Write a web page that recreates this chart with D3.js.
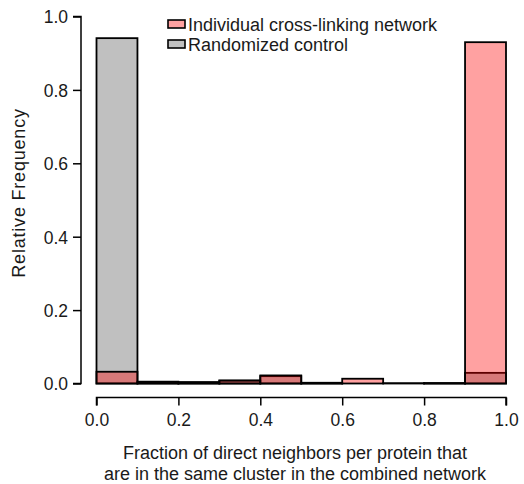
<!DOCTYPE html>
<html>
<head>
<meta charset="utf-8">
<script src="https://cdn.jsdelivr.net/npm/d3@7"></script>
<style>
  body { margin: 0; background: #fff; }
  svg { display: block; font-family: "Liberation Sans", Arial, sans-serif; }
</style>
</head>
<body>
<svg id="chart" width="524" height="484"></svg>
<script>
// Bin edges (fraction of direct neighbors in same cluster)
const binStarts = [0.0, 0.1, 0.2, 0.3, 0.4, 0.5, 0.6, 0.7, 0.8, 0.9];
const binWidth = 0.1;
// Relative frequencies
const randomizedValues = [0.941, 0.003, 0.002, 0.008, 0.020, 0.001, 0.0, 0.0, 0.001, 0.029];
const individualValues = [0.032, 0.005, 0.004, 0.008, 0.022, 0.002, 0.013, 0.001, 0.001, 0.930];
const xTicks = [0.0, 0.2, 0.4, 0.6, 0.8, 1.0];
const yTicks = [0.0, 0.2, 0.4, 0.6, 0.8, 1.0];
const seriesNames = ["Individual cross-linking network", "Randomized control"];
const xTitleLines = ["Fraction of direct neighbors per protein that", "are in the same cluster in the combined network"];
const yTitle = "Relative Frequency";

const svg = d3.select("#chart");
const x = d3.scaleLinear().domain([0, 1]).range([96.5, 506]);
const y = d3.scaleLinear().domain([0, 1]).range([383.5, 16.5]);

const grayFill = "#c0c0c0";
const redFill = "rgba(255,0,0,0.37)";
const textColor = "#1a1a1a";

function drawBars(values, fill, cls) {
  svg.append("g").attr("class", cls)
    .selectAll("rect").data(binStarts.map((s, i) => ({s, v: values[i]})))
    .join("rect")
    .attr("x", d => x(d.s))
    .attr("width", d => x(d.s + binWidth) - x(d.s))
    .attr("y", d => y(d.v))
    .attr("height", d => y(0) - y(d.v))
    .attr("fill", fill)
    .attr("stroke", "#000")
    .attr("stroke-width", 1.8);
}
drawBars(randomizedValues, grayFill, "gray");
drawBars(individualValues, redFill, "red");

// Y axis
const yAxis = d3.axisLeft(y).tickValues(yTicks).tickFormat(d3.format(".1f")).tickSize(8).tickPadding(4);
const gy = svg.append("g").attr("transform", "translate(81,0)").call(yAxis);
gy.select(".domain").attr("d", `M-8,${y(0)}H0V${y(1)}H-8`).attr("stroke-width", 1.5);
gy.selectAll(".tick line").attr("stroke-width", 1.5);
gy.selectAll(".tick text").attr("font-size", 17.5).attr("fill", textColor)
  .attr("font-family", "Liberation Sans, Arial, sans-serif").attr("x", -13).attr("dy", "0.36em");

// X axis
const xAxis = d3.axisBottom(x).tickValues(xTicks).tickFormat(d3.format(".1f")).tickSize(8).tickPadding(5);
const gx = svg.append("g").attr("transform", "translate(0,397.5)").call(xAxis);
gx.select(".domain").attr("d", `M${x(0)},8V0H${x(1)}V8`).attr("stroke-width", 1.5);
gx.selectAll(".tick line").attr("stroke-width", 1.5);
gx.selectAll(".tick text").attr("font-size", 17.5).attr("fill", textColor)
  .attr("font-family", "Liberation Sans, Arial, sans-serif").attr("y", 28.5).attr("dy", null);

// Axis titles
svg.append("g").selectAll("text").data(xTitleLines).join("text")
  .attr("x", 295).attr("y", (d, i) => 459 + i * 21)
  .attr("text-anchor", "middle").attr("font-size", 18).attr("fill", textColor)
  .text(d => d);
svg.append("text")
  .attr("transform", "translate(25,193) rotate(-90)")
  .attr("text-anchor", "middle").attr("font-size", 18).attr("letter-spacing", 0.8).attr("fill", textColor)
  .text(yTitle);

// Legend
const legendFills = [redFill, grayFill];
const leg = svg.append("g");
seriesNames.forEach((name, i) => {
  leg.append("rect").attr("x", 168).attr("y", 20 + i * 20).attr("width", 17).attr("height", 8)
    .attr("fill", legendFills[i]).attr("stroke", "#000").attr("stroke-width", 1.6);
  leg.append("text").attr("x", 188).attr("y", 30.5 + i * 20)
    .attr("font-size", 18).attr("fill", textColor).text(name);
});
</script>
</body>
</html>
